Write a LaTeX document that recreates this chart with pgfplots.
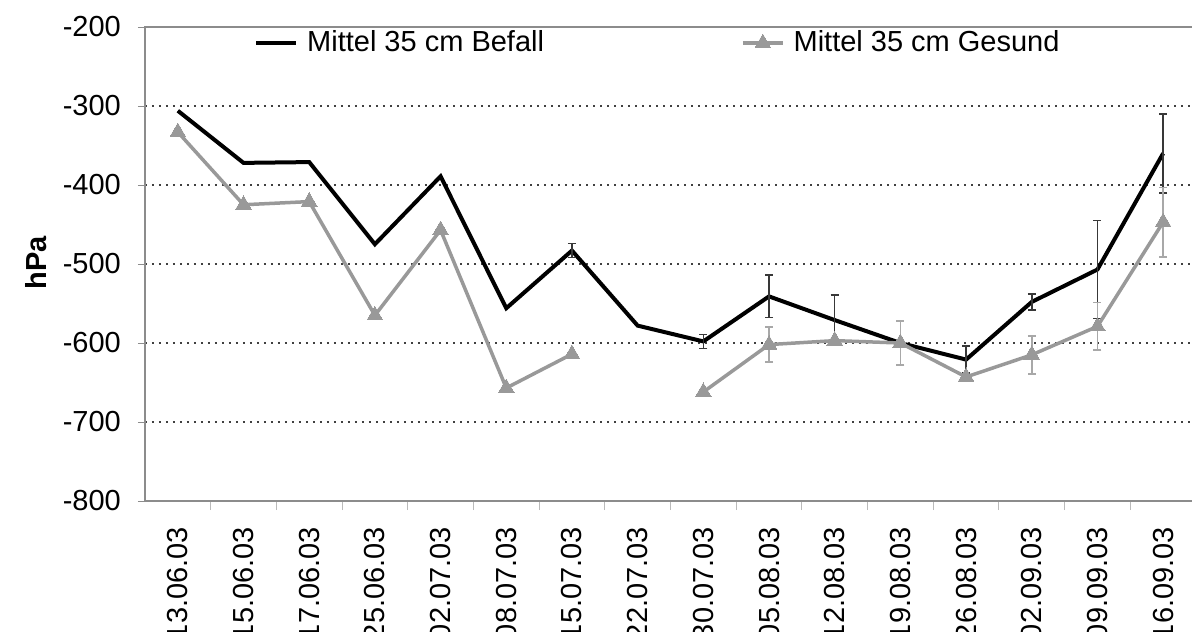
\documentclass[border=0pt]{standalone}
\usepackage{pgfplots}
\pgfplotsset{compat=1.18}
\usepackage{pgfplotstable}
\usepackage{fontspec}
\setmainfont{Liberation Sans}
\definecolor{gser}{HTML}{999999}
\definecolor{gerr}{HTML}{A8A8A8}
\definecolor{berr}{HTML}{383838}
\definecolor{axgray}{HTML}{8C8C8C}

\pgfplotstableread{
x b g
0 -306 -333
1 -372 -425
2 -371 -421
3 -475 -565
4 -389 -457
5 -556 -657
6 -483 -614
7 -578 nan
8 -598 -662
9 -541 -602
10 -571 -597
11 -600 -600
12 -621 -643
13 -548 -615
14 -507 -579
15 -360 -447
}\datatable

\pgfplotstableread{
x y e
6 -483 9
8 -598 9
9 -541 27
10 -571 32
12 -621 17
13 -548 10
14 -507 62
15 -360 50
}\berrtable

\pgfplotstableread{
x y e
9 -602 22
11 -600 28
13 -615 24
14 -579 30
15 -447 44
}\gerrtable

\begin{document}
\fontsize{29}{34}\selectfont
\begin{tikzpicture}
\path[use as bounding box, clip] (-145pt,-131pt) rectangle (1047pt,501pt);
\begin{axis}[
  at={(0pt,0pt)}, anchor=south west,
  scale only axis, width=1051pt, height=474pt,
  xmin=-0.5, xmax=15.5, ymin=-800, ymax=-200,
  axis line style={draw=axgray, line width=1.5pt},
  ytick={-800,-700,-600,-500,-400,-300,-200},
  yticklabels={-800,-700,-600,-500,-400,-300,-200},
  xtick={0,...,15},
  xticklabels={13.06.03,15.06.03,17.06.03,25.06.03,02.07.03,08.07.03,15.07.03,22.07.03,30.07.03,05.08.03,12.08.03,19.08.03,26.08.03,02.09.03,09.09.03,16.09.03},
  minor x tick num=1,
  xtick pos=bottom, ytick pos=left,
  tick align=outside,
  major tick length=7pt, minor tick length=9pt,
  every major x tick/.append style={draw=none},
  every minor x tick/.append style={draw=axgray!60, line width=1pt},
  every major y tick/.append style={draw=axgray, line width=1pt},
  xticklabel style={yshift=-19pt, rotate=90, anchor=east, inner sep=0pt},
  yticklabel style={inner sep=0pt, xshift=-17pt},
  ymajorgrids,
  major grid style={line width=2pt, dash pattern=on 2pt off 5pt, color=black!75},
  ylabel={hPa},
  ylabel style={font=\bfseries, at={(axis description cs:-0.1037,0.503)}, anchor=center},
  legend columns=2,
  legend style={draw=none, fill=none, at={(0.1037,0.966)}, anchor=west, inner sep=0pt,
    nodes={inner sep=0pt},
    /tikz/every odd column/.append style={column sep=9pt},
    /tikz/every even column/.append style={column sep=197pt}},
  legend image code/.code={\draw[mark repeat=2,mark phase=2,#1] plot coordinates {(0pt,0pt) (20pt,0pt) (40pt,0pt)};},
  unbounded coords=jump,
]
\addplot[black, line width=4pt, no markers] table[x=x,y=b]{\datatable};
\addlegendentry{Mittel 35 cm Befall}
\addplot[draw=none, no markers, forget plot,
  error bars/.cd, y dir=both, y explicit,
  error bar style={draw=berr, line width=1.5pt},
  error mark options={draw=berr, line width=1.5pt, mark size=4pt, rotate=90}]
  table[x=x,y=y,y error=e]{\berrtable};
\addplot[gser, line width=3.5pt, mark=triangle*, mark size=9pt, mark options={solid, fill=gser, draw=gser, line width=0pt}] table[x=x,y=g]{\datatable};
\addlegendentry{Mittel 35 cm Gesund}
\addplot[draw=none, no markers, forget plot,
  error bars/.cd, y dir=both, y explicit,
  error bar style={draw=gerr, line width=1.5pt},
  error mark options={draw=gerr, line width=1.5pt, mark size=4pt, rotate=90}]
  table[x=x,y=y,y error=e]{\gerrtable};
\end{axis}
\end{tikzpicture}
\end{document}
